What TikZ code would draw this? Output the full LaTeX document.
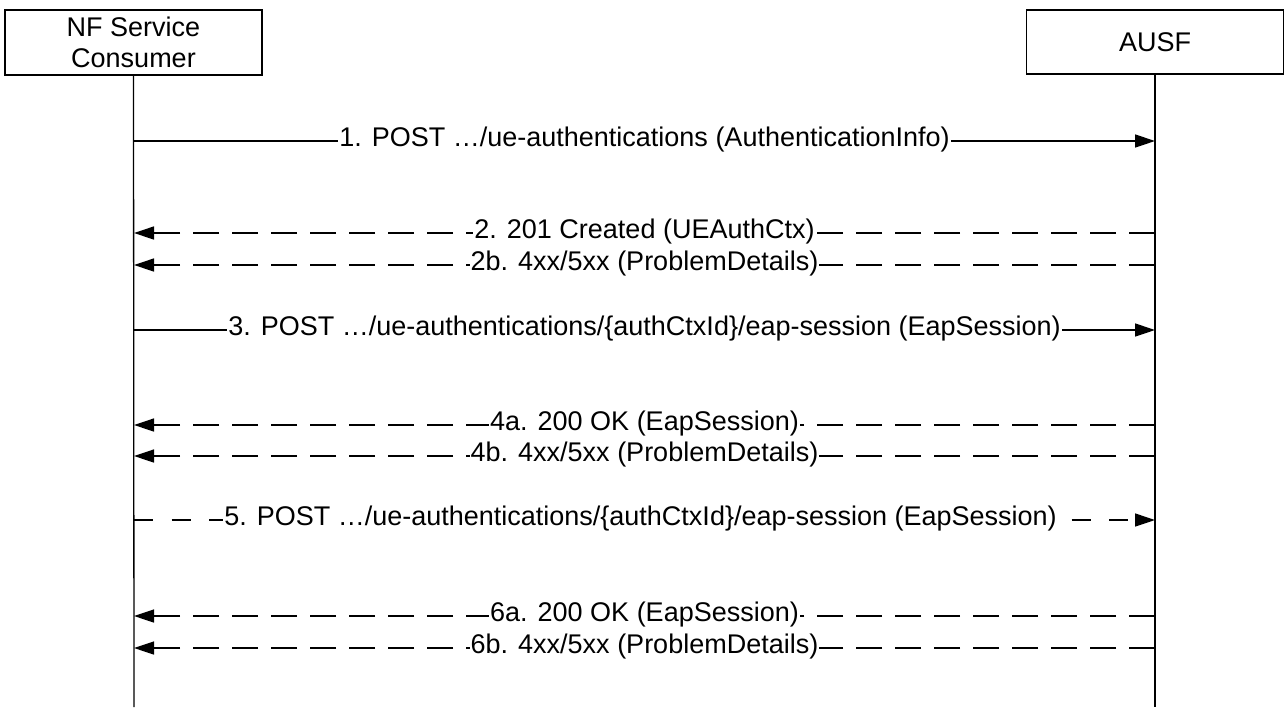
\documentclass[tikz,border=0pt]{standalone}
\usepackage{fontspec}
\setmainfont{Liberation Sans}
\usetikzlibrary{arrows.meta}
\begin{document}
\begin{tikzpicture}[x=1pt,y=-1pt,line width=1.3pt,
  actor/.style={draw,minimum width=257pt,inner sep=0pt,align=center,font=\fontsize{27}{31}\selectfont},
  lifeline/.style={line width=1.3pt},
  msg/.style={-{Triangle[length=20pt,width=13pt]}},
  dmsg/.style={msg,dash pattern=on 26pt off 13pt},
  fmsg/.style={msg,dash pattern=on 19pt off 18.5pt},
  lbl/.style={fill=white,inner xsep=1pt,inner ysep=1pt,yshift=1pt,font=\fontsize{27}{30}\selectfont}]
\useasboundingbox[fill=white] (0,0) rectangle (1284,707);
\node[actor,minimum height=65pt] (nf) at (133.5,42.5) {NF Service\\Consumer};
\node[actor,minimum height=64pt] (ausf) at (1155,42) {AUSF};
\coordinate (nfend) at (134,707);
\coordinate (ausfend) at (1155,707);
\draw[lifeline] (nf.south) -- (nfend);
\draw[lifeline] (ausf.south) -- (ausfend);
\foreach \n/\y in {1/141,2/233,2b/265,3/330,4a/425,4b/456,5/520,6a/616,6b/648}{
  \coordinate (c\n) at (134,\y);
  \coordinate (a\n) at (1155,\y);
}
\draw[msg] (c1) -- node[lbl]{1. POST …/ue-authentications (AuthenticationInfo)} (a1);
\draw[dmsg] (a2) -- node[lbl]{2. 201 Created (UEAuthCtx)} (c2);
\draw[dmsg] (a2b) -- node[lbl]{2b. 4xx/5xx (ProblemDetails)} (c2b);
\draw[msg] (c3) -- node[lbl]{3. POST …/ue-authentications/\{authCtxId\}/eap-session (EapSession)} (a3);
\draw[dmsg] (a4a) -- node[lbl]{4a. 200 OK (EapSession)} (c4a);
\draw[dmsg] (a4b) -- node[lbl]{4b. 4xx/5xx (ProblemDetails)} (c4b);
\draw[fmsg] (c5) -- node[lbl,xshift=-4pt]{5. POST …/ue-authentications/\{authCtxId\}/eap-session (EapSession)} (a5);
\draw[dmsg] (a6a) -- node[lbl]{6a. 200 OK (EapSession)} (c6a);
\draw[dmsg] (a6b) -- node[lbl]{6b. 4xx/5xx (ProblemDetails)} (c6b);
\end{tikzpicture}
\end{document}
